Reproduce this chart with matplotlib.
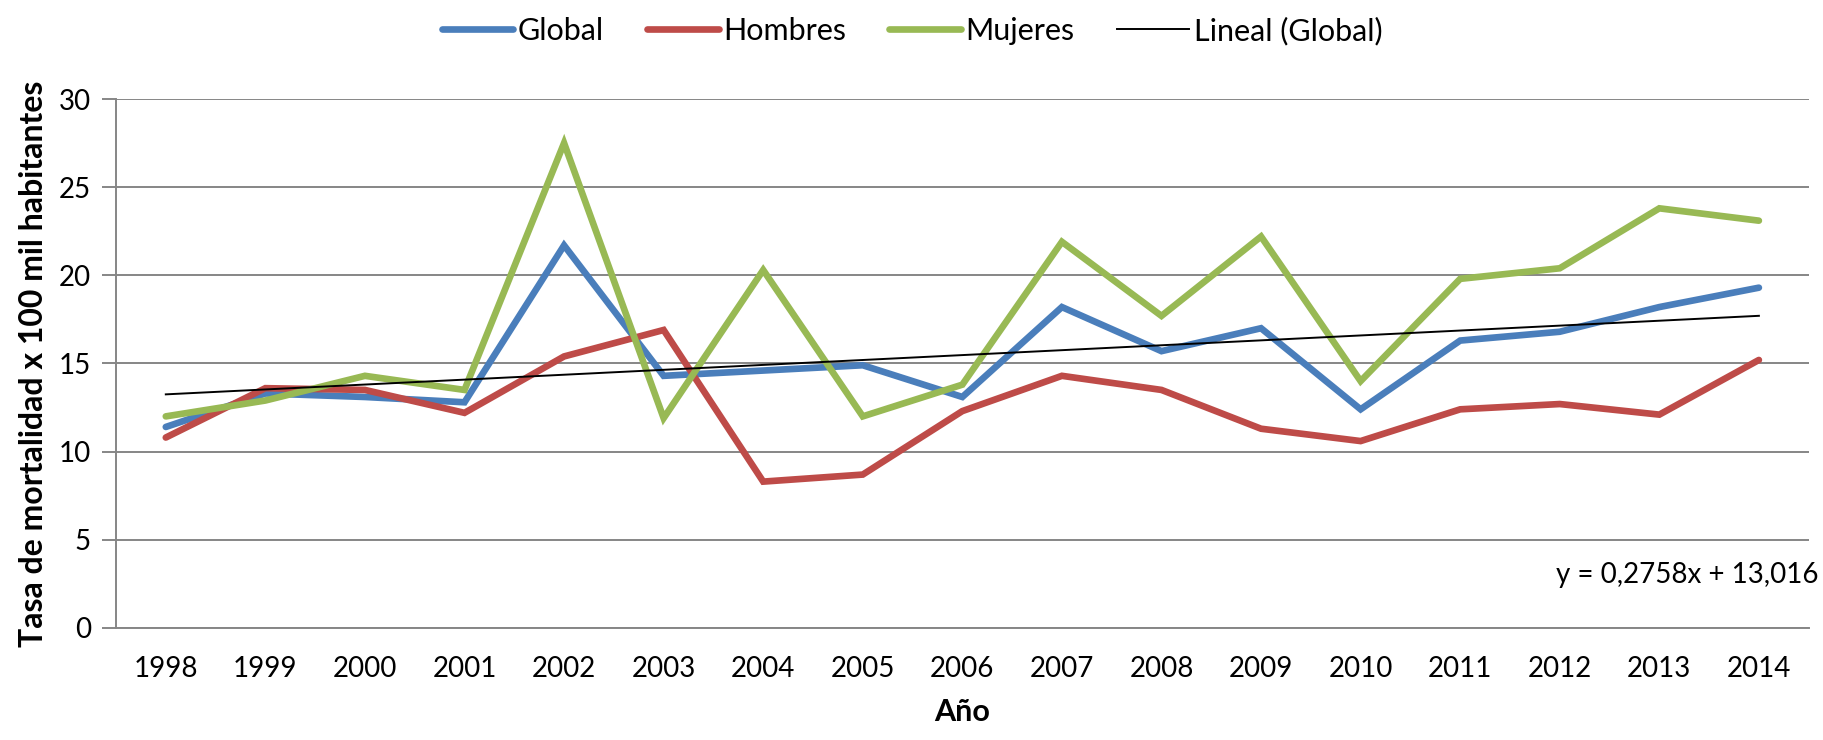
import numpy as np
import matplotlib
matplotlib.use("Agg")
import matplotlib.pyplot as plt

# datos
anios = ["1998","1999","2000","2001","2002","2003","2004","2005","2006",
         "2007","2008","2009","2010","2011","2012","2013","2014"]
global_ = [11.4, 13.3, 13.1, 12.8, 21.7, 14.3, 14.6, 14.9, 13.1,
           18.2, 15.7, 17.0, 12.4, 16.3, 16.8, 18.2, 19.3]
hombres = [10.8, 13.6, 13.5, 12.2, 15.4, 16.9, 8.3, 8.7, 12.3,
           14.3, 13.5, 11.3, 10.6, 12.4, 12.7, 12.1, 15.2]
mujeres = [12.0, 12.9, 14.3, 13.5, 27.5, 11.9, 20.3, 12.0, 13.8,
           21.9, 17.7, 22.2, 14.0, 19.8, 20.4, 23.8, 23.1]
yticks = [0, 5, 10, 15, 20, 25, 30]
ecuacion = "y = 0,2758x + 13,016"

plt.rcParams['font.family'] = ['Lato', 'DejaVu Sans']
fs = 20

fig = plt.figure(figsize=(18.24, 7.4), dpi=100)
ax = fig.add_axes([0.0636, 0.1514, 0.928, 0.7148])

x = np.arange(len(anios))
ax.plot(x, global_, color="#4A7EBB", lw=4.8, label="Global", solid_capstyle="round", solid_joinstyle="miter")
ax.plot(x, hombres, color="#BE4B48", lw=4.8, label="Hombres", solid_capstyle="round", solid_joinstyle="miter")
ax.plot(x, mujeres, color="#98B954", lw=4.8, label="Mujeres", solid_capstyle="round", solid_joinstyle="miter")

# linea de tendencia (x = 1..17 como en Excel)
p = np.polyfit(x + 1, global_, 1)
ax.plot(x, np.polyval(p, x + 1), color="black", lw=1.4, label="Lineal (Global)")

ax.text(16.6, 3.0, ecuacion, ha="right", va="center", fontsize=fs)

ax.set_xlim(-0.5, 16.5)
ax.set_ylim(0, 30)
ax.set_xticks(x)
ax.set_xticklabels(anios, fontsize=fs)
ax.set_yticks(yticks)
ax.set_yticklabels([str(v) for v in yticks], fontsize=fs)
ax.tick_params(axis="x", length=0, pad=20)
ax.tick_params(axis="y", length=10, width=1.4, color="#868686", direction="out", pad=8)
ax.grid(True, axis="y", color="#868686", lw=1.4)
ax.set_axisbelow(True)
for s in ["top", "right"]:
    ax.spines[s].set_visible(False)
for s in ["left", "bottom"]:
    ax.spines[s].set_color("#868686")
    ax.spines[s].set_linewidth(1.4)

ax.set_ylabel("Tasa de mortalidad x 100 mil habitantes", fontsize=23, fontweight="bold", labelpad=8)
ax.set_xlabel("Año", fontsize=22, fontweight="bold", labelpad=12)

fig.legend(loc="upper center", bbox_to_anchor=(0.5, 1.015), ncol=4, frameon=False,
           fontsize=22, handlelength=2.35, handletextpad=0.15, columnspacing=1.4)

fig.savefig("out.png", dpi=100)
